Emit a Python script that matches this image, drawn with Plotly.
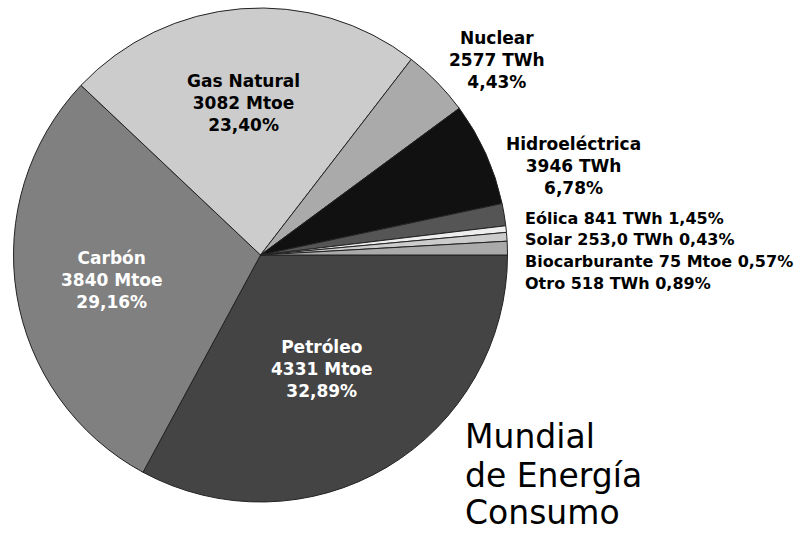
import plotly.graph_objects as go

# Data
labels = ["Petróleo", "Carbón", "Gas Natural", "Nuclear", "Hidroeléctrica",
          "Eólica", "Solar", "Biocarburante", "Otro"]
amounts = ["4331 Mtoe", "3840 Mtoe", "3082 Mtoe", "2577 TWh", "3946 TWh",
           "841 TWh", "253,0 TWh", "75 Mtoe", "518 TWh"]
percents = [32.89, 29.16, 23.40, 4.43, 6.78, 1.45, 0.43, 0.57, 0.89]
colors = ["#444444", "#808080", "#cccccc", "#aaaaaa", "#111111",
          "#555555", "#eeeeee", "#cccccc", "#aaaaaa"]
title_lines = ["Mundial", "de Energía", "Consumo"]

W, H = 805, 533

def pct(v):
    return f"{v:.2f}".replace(".", ",") + "%"

fig = go.Figure(go.Pie(
    labels=labels,
    values=percents,
    sort=False,
    direction="clockwise",
    rotation=90,
    marker=dict(colors=colors, line=dict(color="#222222", width=1)),
    textinfo="none",
    hoverinfo="label+percent",
    showlegend=False,
    domain=dict(x=[11 / W, 510 / W], y=[1 - 502 / H, 1 - 8 / H]),
))

font = "DejaVu Sans"
fs = 17
ann = []
# inside labels (pixel positions of text)
inside_pos = {0: (322, 369, "white"), 1: (112, 280, "white"), 2: (243, 103, "black")}
for i, (x, y, c) in inside_pos.items():
    ann.append(dict(x=x / W, y=1 - y / H, xref="paper", yref="paper",
                    text=f"<b>{labels[i]}<br>{amounts[i]}<br>{pct(percents[i])}</b>",
                    showarrow=False, xanchor="center", yanchor="middle",
                    font=dict(family=font, size=fs, color=c)))
# outside multi-line labels
outside_multi = {3: (497, 60), 4: (573, 166)}
for i, (x, y) in outside_multi.items():
    ann.append(dict(x=x / W, y=1 - y / H, xref="paper", yref="paper",
                    text=f"<b>{labels[i]}<br>{amounts[i]}<br>{pct(percents[i])}</b>",
                    showarrow=False, xanchor="center", yanchor="middle",
                    font=dict(family=font, size=fs, color="black")))
# outside single-line labels
single_y = {5: 218, 6: 239, 7: 261, 8: 283}
for i, y in single_y.items():
    ann.append(dict(x=523 / W, y=1 - y / H, xref="paper", yref="paper",
                    text=f"<b>{labels[i]} {amounts[i]} {pct(percents[i])}</b>",
                    showarrow=False, xanchor="left", yanchor="middle",
                    font=dict(family=font, size=16, color="black")))
# title
for k, (t, y) in enumerate(zip(title_lines, [436, 475, 512])):
    ann.append(dict(x=463 / W, y=1 - y / H, xref="paper", yref="paper",
                    text=t, showarrow=False, xanchor="left", yanchor="middle",
                    font=dict(family=font, size=33, color="black")))

fig.update_layout(
    width=W, height=H,
    margin=dict(l=0, r=0, t=0, b=0),
    paper_bgcolor="white", plot_bgcolor="white",
    annotations=ann,
)

fig.write_html("out.html",
               config={"displayModeBar": False},
               post_script="document.body.style.margin='0';document.body.style.overflow='hidden';")
